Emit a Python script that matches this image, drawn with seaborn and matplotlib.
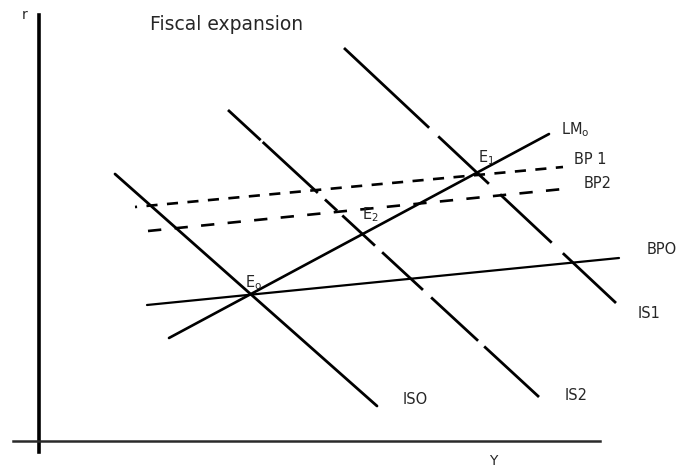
import matplotlib
matplotlib.use('Agg')
import matplotlib.pyplot as plt
import seaborn as sns

sns.set_style('white')
plt.rcParams['font.family'] = ['DejaVu Sans']
plt.rcParams['lines.scale_dashes'] = False

# Curves: end points, origin at the corner of the r / Y axes
curves = ['IS0', 'IS2', 'IS1', 'LM0', 'BP0', 'BP1', 'BP2']
x_start = [76, 189, 305, 130, 108, 96, 109]
y_start = [267, 331, 393, 103, 136, 234, 210]
x_end = [338, 500, 577, 510, 580, 524, 524]
y_end = [35, 44, 138, 307, 183, 274, 252]

# Curve labels
label_text = ['ISO', 'IS2', 'IS1', 'LM$_\\mathregular{o}$', 'BPO', 'BP 1', 'BP2',
              'E$_\\mathregular{o}$', 'E$_\\mathregular{1}$', 'E$_\\mathregular{2}$']
label_x = [364, 526, 599, 522, 608, 535, 545, 206, 439, 323]
label_y = [42, 45, 128, 311, 191, 281, 258, 158, 283, 226]

styles = {
    'IS0': '-',
    'IS2': (0, (32, 2, 54, 7, 12, 5, 32, 7, 40, 8, 46, 6, 54, 200)),
    'IS1': (0, (84, 9, 50, 11, 51, 11, 53, 200)),
    'LM0': '-',
    'BP0': '-',
    'BP1': (6.5, (8, 6.8)),
    'BP2': (0, (9.6, 9.6)),
}
widths = {'IS0': 2.0, 'IS2': 2.0, 'IS1': 2.0, 'LM0': 1.9, 'BP0': 1.6, 'BP1': 1.9, 'BP2': 1.9}

fig = plt.figure(figsize=(6.9, 4.67), dpi=100)
ax = fig.add_axes([0, 0, 1, 1])

for i, name in enumerate(curves):
    sns.lineplot(x=[x_start[i], x_end[i]], y=[y_start[i], y_end[i]], ax=ax,
                 color='black', lw=widths[name], linestyle=styles[name])

for t, lx, ly in zip(label_text, label_x, label_y):
    ax.text(lx, ly, t, fontsize=10.5, color='#262626', ha='left', va='center')

ax.text(111, 416, 'Fiscal expansion', fontsize=13.5, color='#262626', ha='left', va='center')
ax.text(-14, 426, 'r', fontsize=10, color='#262626', ha='center', va='center')
ax.text(454, -13, 'Y', fontsize=10, color='#262626', ha='center', va='top')

ax.set_xlim(-39, 651)
ax.set_ylim(-26, 441)

# axes drawn as spines through the origin
ax.spines['left'].set_position(('data', 0))
ax.spines['bottom'].set_position(('data', 0))
ax.spines['left'].set_bounds(-11, 426)
ax.spines['bottom'].set_bounds(-26, 561)
ax.spines['left'].set_linewidth(2.6)
ax.spines['bottom'].set_linewidth(1.8)
ax.spines['left'].set_color('black')
ax.spines['bottom'].set_color('#2a2a2a')
ax.spines['top'].set_visible(False)
ax.spines['right'].set_visible(False)
ax.set_xticks([])
ax.set_yticks([])
ax.set_xlabel('')
ax.set_ylabel('')

fig.savefig('out.png', dpi=100)
